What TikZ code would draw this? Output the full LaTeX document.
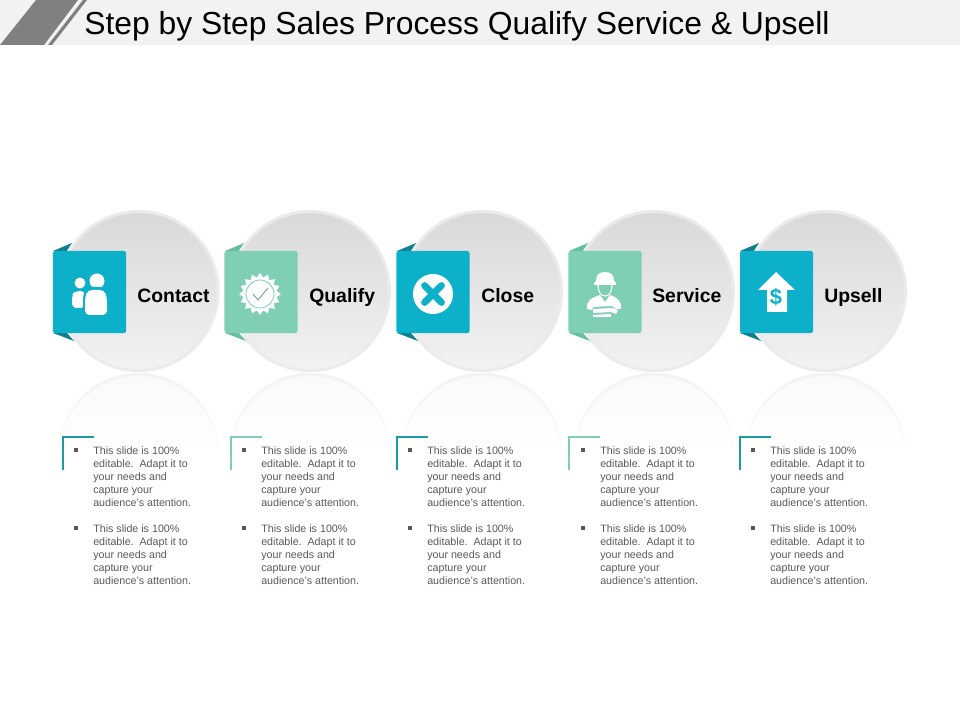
\documentclass[tikz,border=0pt]{standalone}
\usepackage{fontspec}
\setmainfont{Liberation Sans}
\usetikzlibrary{calc,shapes.geometric}

\definecolor{tealbox}{HTML}{0DB0C9}
\definecolor{tealdark}{HTML}{0E7F90}
\definecolor{tealline}{HTML}{1A9BA8}
\definecolor{greenbox}{HTML}{7FCFB4}
\definecolor{greendark}{HTML}{63BFA0}
\definecolor{notegray}{HTML}{595959}

\newcommand{\notetext}{This slide is 100\%\\editable.\ \ Adapt it to\\your needs and\\capture your\\audience's attention.}

\begin{document}
\begin{tikzpicture}[x=0.025cm,y=-0.025cm,
        disc/.style={circle, minimum size=3.975cm, inner sep=0, draw=black!8, line width=0.075cm, top color=black!15, bottom color=black!5},
        reflrim/.style={circle, minimum size=4.05cm, inner sep=0, top color=black!5, bottom color=white, middle color=white},
        reflin/.style={circle, minimum size=3.9cm, inner sep=0, top color=black!2, bottom color=white, middle color=white},
        box/.style={minimum width=1.825cm, minimum height=2.05cm, inner sep=0, rounded corners=1.5pt},
        word/.style={anchor=base west, inner sep=0, font=\fontsize{13.8}{16}\selectfont\bfseries},
        note/.style={anchor=north west, inner sep=0, align=left, text=notegray, font=\fontsize{7.6}{9.25}\selectfont},
        bullet/.style={fill=notegray, minimum size=0.09cm, inner sep=0},
        corner/.style={line width=1pt}]
    \useasboundingbox (0,0) rectangle (960,720);

    % header
    \fill[black!5] (0,0) rectangle (960,45);
    \fill[black!50] (0,45) -- (36,0) -- (78,0) -- (44,45) -- cycle;
    \fill[black!50] (48,45) -- (83,0) -- (87,0) -- (52,45) -- cycle;
    \node[anchor=base west, inner sep=0, font=\fontsize{22.65}{26}\selectfont] (title) at (84,35) {Step by Step Sales Process Qualify Service \& Upsell};

    \coordinate (c1) at (138.5,291);
    \coordinate (c2) at (310,291);
    \coordinate (c3) at (482,291);
    \coordinate (c4) at (654,291);
    \coordinate (c5) at (826,291);

    % reflections
    \node[reflrim] (rr1) at ($(c1)+(0,163)$) {};
    \node[reflrim] (rr2) at ($(c2)+(0,163)$) {};
    \node[reflrim] (rr3) at ($(c3)+(0,163)$) {};
    \node[reflrim] (rr4) at ($(c4)+(0,163)$) {};
    \node[reflrim] (rr5) at ($(c5)+(0,163)$) {};
    \node[reflin] (ri1) at ($(c1)+(0,163)$) {};
    \node[reflin] (ri2) at ($(c2)+(0,163)$) {};
    \node[reflin] (ri3) at ($(c3)+(0,163)$) {};
    \node[reflin] (ri4) at ($(c4)+(0,163)$) {};
    \node[reflin] (ri5) at ($(c5)+(0,163)$) {};

    % circles
    \node[disc] (disc1) at (c1) {};
    \node[disc] (disc2) at (c2) {};
    \node[disc] (disc3) at (c3) {};
    \node[disc] (disc4) at (c4) {};
    \node[disc] (disc5) at (c5) {};

    % ribbon folds
    \fill[tealdark] (53,251) -- (72,243) -- (66,252) -- cycle;
    \fill[tealdark] (53,333) -- (74,341) -- (66,332) -- cycle;
    \fill[greendark] (225,251) -- (244,243) -- (238,252) -- cycle;
    \fill[greendark] (225,333) -- (246,341) -- (238,332) -- cycle;
    \fill[tealdark] (397,251) -- (416,243) -- (410,252) -- cycle;
    \fill[tealdark] (397,333) -- (418,341) -- (410,332) -- cycle;
    \fill[greendark] (569,251) -- (588,243) -- (582,252) -- cycle;
    \fill[greendark] (569,333) -- (590,341) -- (582,332) -- cycle;
    \fill[tealdark] (740,251) -- (759,243) -- (753,252) -- cycle;
    \fill[tealdark] (740,333) -- (761,341) -- (753,332) -- cycle;

    % boxes
    \node[box, fill=tealbox] (box1) at (89.5,292) {};
    \node[box, fill=greenbox] (box2) at (261,292) {};
    \node[box, fill=tealbox] (box3) at (433,292) {};
    \node[box, fill=greenbox] (box4) at (605,292) {};
    \node[box, fill=tealbox] (box5) at (776.5,292) {};

    % labels
    \node[word] (contact) at (137,303) {Contact};
    \node[word] (qualify) at (309,303) {Qualify};
    \node[word] (close) at (481,303) {Close};
    \node[word] (service) at (652,303) {Service};
    \node[word] (upsell) at (824,303) {Upsell};

    % people icon
    \fill[white] (80,283) circle (5.5);
    \fill[white, rounded corners=3pt] (72,308) -- (72,295) -- (75,291) -- (85,291) -- (85,308) -- cycle;
    \fill[tealbox] (97,281) circle (9);
    \fill[white] (97,281) circle (7.5);
    \fill[tealbox, rounded corners=3pt] (83,316) -- (83,295) -- (87,287) -- (105,287) -- (109,295) -- (109,316) -- cycle;
    \fill[white, rounded corners=3pt] (85,315) -- (85,297) -- (88,290) -- (104,290) -- (107,297) -- (107,315) -- cycle;

    % badge icon
    \node[star, star points=16, star point ratio=1.26, minimum size=1.05cm, inner sep=0, fill=white] (badge) at (260,294) {};
    \node[circle, minimum size=0.7cm, inner sep=0, fill=white, draw=greenbox, line width=0.6pt] (ring) at (badge) {};
    \draw[greendark!70!black!70, line width=0.7pt] (253,294) -- (258,300) -- (268,288);

    % cross icon
    \node[circle, minimum size=1cm, inner sep=0, fill=white] (cross) at (433,294) {};
    \draw[tealbox, line width=4.8pt, line cap=round] ($(cross)+(-8.5,-8.5)$) -- ($(cross)+(8.5,8.5)$);
    \draw[tealbox, line width=4.8pt, line cap=round] ($(cross)+(-8.5,8.5)$) -- ($(cross)+(8.5,-8.5)$);

    % worker icon
    \fill[white] (594,283) -- (596,281) .. controls (596,275) and (599,272) .. (605,272) .. controls (611,272) and (614,275) .. (614,281) -- (616,283) -- (616,285) -- (594,285) -- cycle;
    \draw[white, line width=0.8pt] (598,285) .. controls (598,292) and (601,296) .. (605,296) .. controls (609,296) and (612,292) .. (612,285);
    \fill[white] (587,309) .. controls (586,301) and (591,298) .. (600,295) -- (605,302) -- (610,295) .. controls (618,298) and (622,301) .. (621,309) -- (616,309) -- (612,306) -- (593,307) -- (592,310) -- cycle;
    \fill[white] (593,309) -- (612,308) -- (618,310) -- (616,314) -- (611,312) -- (593,313) -- cycle;
    \fill[white] (593,315) -- (611,314) -- (611,317) -- (593,317) -- cycle;

    % arrow icon
    \fill[white] (776,272) -- (795,290) -- (787,290) -- (787,312) -- (767,312) -- (767,290) -- (758,290) -- cycle;
    \node[text=tealbox, inner sep=0, font=\fontsize{15.5}{18}\selectfont\bfseries] (dollar) at (776,297) {\$};

    % corners
    \draw[corner, tealline] (94,437) -- (63,437) -- (63,470);
    \draw[corner, greenbox] (262,437) -- (231,437) -- (231,470);
    \draw[corner, tealline] (428,437) -- (397,437) -- (397,470);
    \draw[corner, greenbox] (600,437) -- (569,437) -- (569,470);
    \draw[corner, tealline] (771,437) -- (740,437) -- (740,470);

    % notes
    \node[bullet] (b1a) at (76,450) {};
    \node[bullet] (b1b) at (76,528) {};
    \node[note] (n1a) at (93,446) {\notetext};
    \node[note] (n1b) at (93,524) {\notetext};

    \node[bullet] (b2a) at (244,450) {};
    \node[bullet] (b2b) at (244,528) {};
    \node[note] (n2a) at (261,446) {\notetext};
    \node[note] (n2b) at (261,524) {\notetext};

    \node[bullet] (b3a) at (410,450) {};
    \node[bullet] (b3b) at (410,528) {};
    \node[note] (n3a) at (427,446) {\notetext};
    \node[note] (n3b) at (427,524) {\notetext};

    \node[bullet] (b4a) at (583,450) {};
    \node[bullet] (b4b) at (583,528) {};
    \node[note] (n4a) at (600,446) {\notetext};
    \node[note] (n4b) at (600,524) {\notetext};

    \node[bullet] (b5a) at (753,450) {};
    \node[bullet] (b5b) at (753,528) {};
    \node[note] (n5a) at (770,446) {\notetext};
    \node[note] (n5b) at (770,524) {\notetext};
\end{tikzpicture}
\end{document}
